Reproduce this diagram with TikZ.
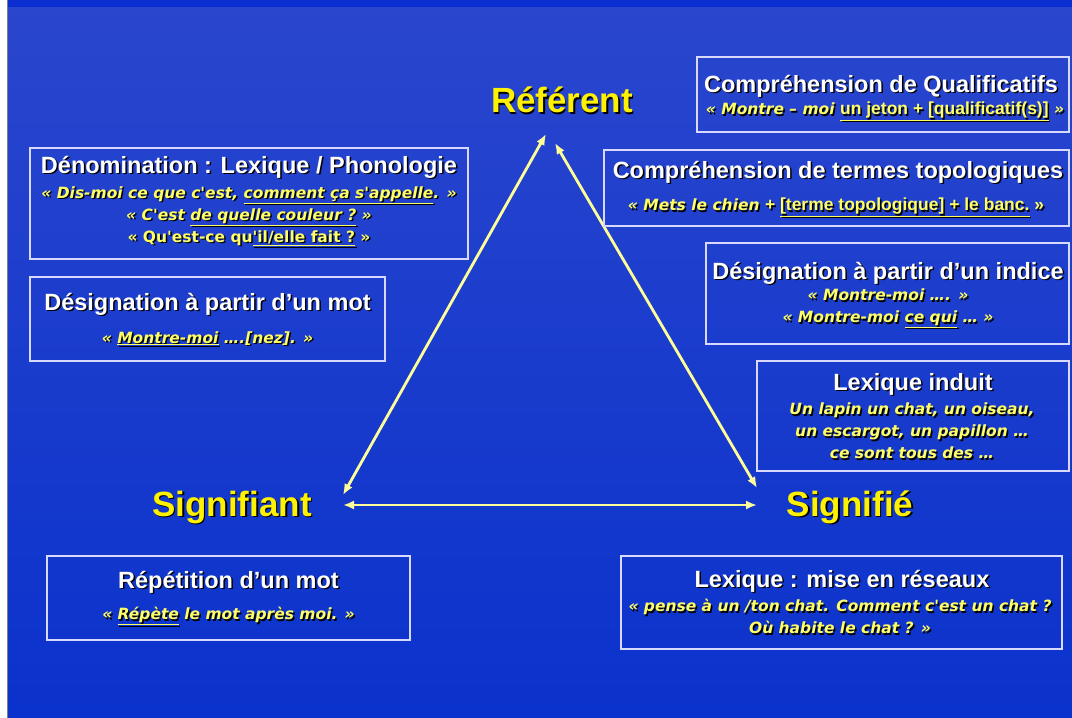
\documentclass[tikz,border=0pt]{standalone}
\usepackage{fontspec}
\setmainfont{Liberation Sans}
\newfontfamily\comicfont{DejaVu Sans}
\usetikzlibrary{arrows.meta}

\definecolor{bgtop}{HTML}{2A46CD}
\definecolor{bgmid}{HTML}{6E8DE2}
\definecolor{bgbot}{HTML}{0A32CC}
\definecolor{topbar}{HTML}{0A2ECF}
\definecolor{palely}{HTML}{FFFF99}
\definecolor{saycol}{HTML}{FFFF66}

% text with a dark drop shadow
\newcommand{\shd}[1]{\leavevmode\rlap{\kern1.5pt\raisebox{-1.5pt}{\color{black}#1}}#1}
\newcommand{\arl}{\normalfont\bfseries\fontsize{17.5}{22}\selectfont}

\tikzset{
  box/.style={draw=white!85!blue, line width=1.3pt},
  ttl/.style={text=white, font=\fontsize{23.5}{26}\selectfont\bfseries, inner sep=0pt},
  say/.style={text=saycol, font=\comicfont\fontsize{15.5}{22}\selectfont\bfseries\itshape, align=center, inner sep=0pt},
  pole/.style={text=yellow, font=\fontsize{35}{40}\selectfont\bfseries, inner sep=0pt},
  conn/.style={draw=palely, line width=2.8pt, {Latex[length=11pt,width=9pt]}-{Latex[length=11pt,width=9pt]}}
}

\begin{document}
\begin{tikzpicture}[x=1pt,y=-1pt]
    \useasboundingbox (0,0) rectangle (1072,718);

    % Background
    \shade[top color=bgtop, middle color=bgmid, bottom color=bgbot] (0,0) rectangle (1072,718);
    \fill[topbar] (7,0) rectangle (1072,7);
    \fill[white] (0,0) rectangle (7,718);
    \draw[gray] (7,0) -- (7,718);

    % The three poles
    \node[pole] (ref) at (562,101) {\shd{Référent}};
    \node[pole] (sfiant) at (232,508) {\shd{Signifiant}};
    \node[pole] (sfie) at (850,508) {\shd{Signifié}};

    % Arrow ends
    \coordinate (refL) at (546,134);
    \coordinate (refR) at (555,143);
    \coordinate (sfiantT) at (343,495);
    \coordinate (sfiantR) at (343,505);
    \coordinate (sfieT) at (757,488);
    \coordinate (sfieL) at (757,505);

    % Triangle
    \draw[conn] (sfiantT) -- (refL);
    \draw[conn] (refR) -- (sfieT);
    \draw[conn] (sfiantR) -- (sfieL);

    % Left boxes
    \node[box, minimum width=438, minimum height=111] (denom) at (249,203.5) {};
    \node[ttl] (denomT) at (249,168) {\shd{Dénomination : Lexique / Phonologie}};
    \node[say] (denomS) at (249,217) {\shd{« Dis-moi ce que c'est, \underline{comment ça s'appelle}. »}\\
      \shd{« C'est \underline{de quelle couleur ?} »}\\
      \shd{{\upshape « Qu'est-ce qu\underline{'il/elle fait ?} »}}};

    \node[box, minimum width=355, minimum height=84] (mot) at (207.5,319) {};
    \node[ttl] (motT) at (207.5,305) {\shd{Désignation à partir d’un mot}};
    \node[say] (motS) at (207.5,339) {\shd{« \underline{Montre-moi} ….[nez]. »}};

    \node[box, minimum width=363, minimum height=84] (rep) at (228.5,598) {};
    \node[ttl] (repT) at (228.5,583) {\shd{Répétition d’un mot}};
    \node[say] (repS) at (228.5,617) {\shd{« \underline{Répète} le mot après moi. »}};

    % Right boxes
    \node[box, minimum width=372, minimum height=75] (qual) at (883,94.5) {};
    \node[ttl] (qualT) at (881,87) {\shd{Compréhension de Qualificatifs}};
    \node[say] (qualS) at (885,112) {\shd{« Montre – moi {\arl\underline{un jeton + [qualificatif(s)]}} »}};

    \node[box, minimum width=465, minimum height=76] (topo) at (836.5,188) {};
    \node[ttl] (topoT) at (838,173) {\shd{Compréhension de termes topologiques}};
    \node[say] (topoS) at (836,208) {\shd{« Mets le chien {\arl+ \underline{[terme topologique] + le banc.} »}}};

    \node[box, minimum width=363, minimum height=101] (ind) at (887.5,293.5) {};
    \node[ttl] (indT) at (888,274) {\shd{Désignation à partir d’un indice}};
    \node[say] (indS) at (888,309) {\shd{« Montre-moi …. »}\\
      \shd{« Montre-moi \underline{ce qui} … »}};

    \node[box, minimum width=312, minimum height=110] (induit) at (913,416) {};
    \node[ttl] (induitT) at (913,385) {\shd{Lexique induit}};
    \node[say] (induitS) at (912,431.5) {\shd{Un lapin un chat, un oiseau,}\\
      \shd{un escargot, un papillon …}\\
      \shd{ce sont tous des …}};

    \node[box, minimum width=441, minimum height=93] (res) at (841.5,602.5) {};
    \node[ttl] (resT) at (842,582) {\shd{Lexique : mise en réseaux}};
    \node[say] (resS) at (840,617.5) {\shd{« pense à un /ton chat. Comment c'est un chat ?}\\
      \shd{Où habite le chat ? »}};
\end{tikzpicture}
\end{document}
